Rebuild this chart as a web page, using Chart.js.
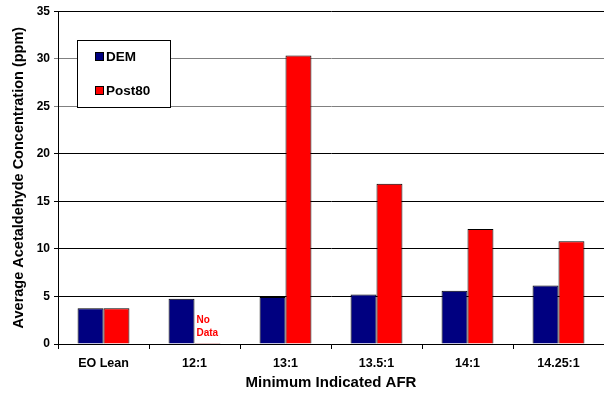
<!DOCTYPE html>
<html>
<head>
<meta charset="utf-8">
<script src="https://cdn.jsdelivr.net/npm/chart.js@4/dist/chart.umd.min.js"></script>
<style>
  html, body { margin: 0; padding: 0; background: #fff; }
  #wrap { width: 604px; height: 398px; position: relative; }
</style>
</head>
<body>
<div id="wrap"><canvas id="afrChart"></canvas></div>
<script>
const categories = ['EO Lean', '12:1', '13:1', '13.5:1', '14:1', '14.25:1'];
const demValues = [3.75, 4.75, 4.95, 5.2, 5.6, 6.15];
const post80Values = [3.75, 0.1, 30.35, 16.85, 12.1, 10.8];
const noDataIndex = 1;

const font = '"Liberation Sans", Arial, sans-serif';

// legend box drawn inside the plot area, like the original
const boxLegend = {
  id: 'boxLegend',
  afterDraw(chart) {
    const ctx = chart.ctx;
    ctx.save();
    ctx.fillStyle = '#fff';
    ctx.fillRect(77, 40, 93, 67);
    ctx.strokeStyle = '#000';
    ctx.lineWidth = 1;
    ctx.strokeRect(77.5, 40.5, 93, 67);
    ctx.font = 'bold 13.5px ' + font;
    ctx.textBaseline = 'middle';
    chart.data.datasets.forEach((ds, i) => {
      const y = 57 + i * 34;
      ctx.fillStyle = ds.backgroundColor;
      ctx.fillRect(95, y - 5, 9, 9);
      ctx.strokeRect(95.5, y - 4.5, 8, 8);
      ctx.fillStyle = '#000';
      ctx.fillText(ds.label, 106, y);
    });

    // "No Data" note over the missing Post80 bar
    const meta = chart.getDatasetMeta(1);
    const bar = meta.data[noDataIndex];
    if (bar) {
      ctx.fillStyle = '#ff0000';
      ctx.font = 'bold 10px ' + font;
      ctx.textAlign = 'left';
      ctx.fillText('No', bar.x - 11, bar.base - 23);
      ctx.fillText('Data', bar.x - 11, bar.base - 10);
    }
    ctx.restore();
  }
};

new Chart(document.getElementById('afrChart'), {
  type: 'bar',
  data: {
    labels: categories,
    datasets: [
      { label: 'DEM', data: demValues, backgroundColor: '#000080', borderColor: '#000', borderWidth: 1,
        categoryPercentage: 0.57, barPercentage: 1 },
      { label: 'Post80', data: post80Values, backgroundColor: '#ff0000', borderColor: '#000', borderWidth: 1,
        categoryPercentage: 0.57, barPercentage: 1 }
    ]
  },
  options: {
    responsive: true,
    maintainAspectRatio: false,
    animation: false,
    layout: { padding: { top: 9, right: 0, bottom: 2, left: 6 } },
    plugins: { legend: { display: false }, tooltip: { enabled: false } },
    scales: {
      x: {
        grid: { drawOnChartArea: false, color: '#000', tickLength: 5, offset: true },
        border: { color: '#000' },
        ticks: { color: '#000', font: { family: font, size: 12.5, weight: 700 }, padding: 7, maxRotation: 0 },
        title: { display: true, text: 'Minimum Indicated AFR', color: '#000',
                 font: { family: font, size: 15, weight: 700 }, padding: { top: 6 } },
        afterFit(scale) { scale.height = 52; }
      },
      y: {
        min: 0, max: 35,
        ticks: { stepSize: 5, color: '#000', font: { family: font, size: 12, weight: 700 }, padding: 4 },
        grid: {
          color: c => (c.tick && (c.tick.value === 25 || c.tick.value === 30)) ? '#808080' : '#000',
          tickLength: 4
        },
        border: { color: '#000' },
        title: { display: true, text: 'Average Acetaldehyde Concentration (ppm)', color: '#000',
                 font: { family: font, size: 14.5, weight: 700 }, padding: { bottom: 4 } },
        afterFit(scale) { scale.width = 52; }
      }
    }
  },
  plugins: [boxLegend]
});
</script>
</body>
</html>
